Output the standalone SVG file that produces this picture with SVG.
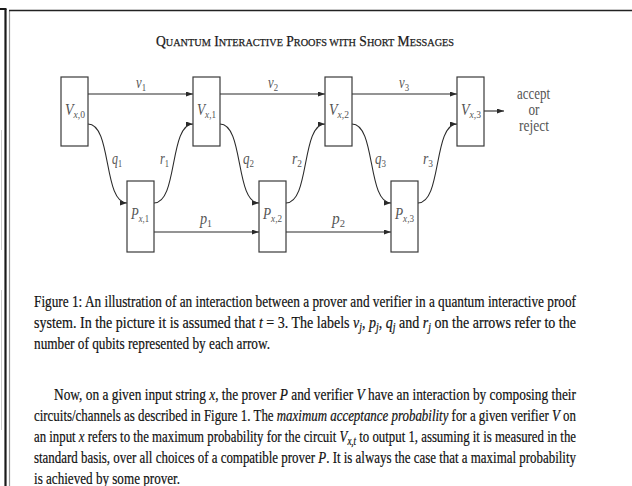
<svg xmlns="http://www.w3.org/2000/svg" width="632" height="486" viewBox="0 0 632 486">
<style>
.box{fill:#fff;stroke:#3a3a3a;stroke-width:1.2}
.wire{fill:none;stroke:#2a2a2a;stroke-width:1.1}
.lbl{font-family:"Liberation Serif","Times New Roman",serif;font-size:16px;fill:#555;font-style:italic}
.up{font-style:normal}
.sub{font-size:11px}
.plain{font-family:"Liberation Serif","Times New Roman",serif;font-size:16.5px;fill:#555}
.title{font-family:"Liberation Serif","Times New Roman",serif;font-size:15px;fill:#1a1a1a;stroke:#1a1a1a;stroke-width:0.25}
.sc{font-size:11.3px}
.body{font-family:"Liberation Serif","Times New Roman",serif;font-size:16.5px;fill:#111;stroke:#111;stroke-width:0.2}
.it{font-style:italic}
.bsub{font-size:11.5px;font-style:italic}
</style>
<defs>
<marker id="ah" markerUnits="userSpaceOnUse" markerWidth="7" markerHeight="5" refX="7" refY="2.5" orient="auto">
<path d="M0,0 L7,2.5 L0,5 z" fill="#2a2a2a"/>
</marker>
</defs>
<rect width="632" height="486" fill="#fff"/>
<g id="page-frame">
<line x1="5.5" y1="9" x2="5.5" y2="486" stroke="#1a1a1a" stroke-width="2.2"/>
<line x1="0" y1="9" x2="6.5" y2="9" stroke="#1a1a1a" stroke-width="2"/>
<line x1="9.5" y1="10.5" x2="9.5" y2="486" stroke="#999" stroke-width="1.2"/>
<line x1="9" y1="10.5" x2="632" y2="10.5" stroke="#222" stroke-width="1.6"/>
<line x1="1.5" y1="130" x2="1.5" y2="250" stroke="#ccc" stroke-width="1"/>
<line x1="1.5" y1="290" x2="1.5" y2="430" stroke="#ccc" stroke-width="1"/>
</g>
<text class="title" x="156" y="46" textLength="298" lengthAdjust="spacingAndGlyphs">Q<tspan class="sc">UANTUM</tspan> I<tspan class="sc">NTERACTIVE</tspan> P<tspan class="sc">ROOFS WITH</tspan> S<tspan class="sc">HORT</tspan> M<tspan class="sc">ESSAGES</tspan></text>
<g id="connectors">
<path class="wire" marker-end="url(#ah)" d="M88,94 H193"/>
<path class="wire" marker-end="url(#ah)" d="M220,94 H325"/>
<path class="wire" marker-end="url(#ah)" d="M352,94 H457"/>
<path class="wire" marker-end="url(#ah)" d="M88,124 C112,124 103,203 127,203"/>
<path class="wire" marker-end="url(#ah)" d="M154,203 C178,203 169,124 193,124"/>
<path class="wire" marker-end="url(#ah)" d="M220,124 C244,124 235,203 259,203"/>
<path class="wire" marker-end="url(#ah)" d="M286,203 C310,203 301,124 325,124"/>
<path class="wire" marker-end="url(#ah)" d="M352,124 C376,124 367,203 391,203"/>
<path class="wire" marker-end="url(#ah)" d="M418,203 C442,203 433,124 457,124"/>
<path class="wire" marker-end="url(#ah)" d="M154,232 H259"/>
<path class="wire" marker-end="url(#ah)" d="M286,232 H391"/>
<path class="wire" marker-end="url(#ah)" d="M484,111 H504"/>
<text class="lbl" x="136" y="88" textLength="10" lengthAdjust="spacingAndGlyphs">v<tspan class="sub up" dy="3">1</tspan></text>
<text class="lbl" x="268" y="88" textLength="10" lengthAdjust="spacingAndGlyphs">v<tspan class="sub up" dy="3">2</tspan></text>
<text class="lbl" x="399" y="88" textLength="10" lengthAdjust="spacingAndGlyphs">v<tspan class="sub up" dy="3">3</tspan></text>
<text class="lbl" x="112" y="164" textLength="10" lengthAdjust="spacingAndGlyphs">q<tspan class="sub up" dy="3">1</tspan></text>
<text class="lbl" x="160" y="164" textLength="9" lengthAdjust="spacingAndGlyphs">r<tspan class="sub up" dy="3">1</tspan></text>
<text class="lbl" x="243" y="164" textLength="11" lengthAdjust="spacingAndGlyphs">q<tspan class="sub up" dy="3">2</tspan></text>
<text class="lbl" x="292" y="164" textLength="10" lengthAdjust="spacingAndGlyphs">r<tspan class="sub up" dy="3">2</tspan></text>
<text class="lbl" x="375" y="164" textLength="11" lengthAdjust="spacingAndGlyphs">q<tspan class="sub up" dy="3">3</tspan></text>
<text class="lbl" x="423" y="164" textLength="10" lengthAdjust="spacingAndGlyphs">r<tspan class="sub up" dy="3">3</tspan></text>
<text class="lbl" x="200" y="224" textLength="12" lengthAdjust="spacingAndGlyphs">p<tspan class="sub up" dy="3">1</tspan></text>
<text class="lbl" x="332" y="224" textLength="13" lengthAdjust="spacingAndGlyphs">p<tspan class="sub up" dy="3">2</tspan></text>
</g>
<g id="Vx0"><rect class="box" x="61" y="77" width="27" height="69"/><text class="lbl" x="65" y="115" textLength="20" lengthAdjust="spacingAndGlyphs">V<tspan class="sub" dy="3">x</tspan><tspan class="sub up">,0</tspan></text></g>
<g id="Vx1"><rect class="box" x="193" y="77" width="27" height="69"/><text class="lbl" x="197" y="115" textLength="19" lengthAdjust="spacingAndGlyphs">V<tspan class="sub" dy="3">x</tspan><tspan class="sub up">,1</tspan></text></g>
<g id="Vx2"><rect class="box" x="325" y="77" width="27" height="69"/><text class="lbl" x="329" y="115" textLength="20" lengthAdjust="spacingAndGlyphs">V<tspan class="sub" dy="3">x</tspan><tspan class="sub up">,2</tspan></text></g>
<g id="Vx3"><rect class="box" x="457" y="77" width="27" height="69"/><text class="lbl" x="461" y="115" textLength="20" lengthAdjust="spacingAndGlyphs">V<tspan class="sub" dy="3">x</tspan><tspan class="sub up">,3</tspan></text></g>
<g id="Px1"><rect class="box" x="127" y="181" width="27" height="71"/><text class="lbl" x="131" y="219" textLength="18" lengthAdjust="spacingAndGlyphs">P<tspan class="sub" dy="3">x</tspan><tspan class="sub up">,1</tspan></text></g>
<g id="Px2"><rect class="box" x="259" y="181" width="27" height="71"/><text class="lbl" x="263" y="219" textLength="19" lengthAdjust="spacingAndGlyphs">P<tspan class="sub" dy="3">x</tspan><tspan class="sub up">,2</tspan></text></g>
<g id="Px3"><rect class="box" x="391" y="181" width="27" height="71"/><text class="lbl" x="395" y="219" textLength="19" lengthAdjust="spacingAndGlyphs">P<tspan class="sub" dy="3">x</tspan><tspan class="sub up">,3</tspan></text></g>
<g id="outcome">
<text class="plain" x="517" y="99" textLength="33" lengthAdjust="spacingAndGlyphs">accept</text>
<text class="plain" x="528.5" y="115" textLength="11" lengthAdjust="spacingAndGlyphs">or</text>
<text class="plain" x="519" y="131" textLength="30" lengthAdjust="spacingAndGlyphs">reject</text>
</g>
<g id="caption">
<text class="body" x="34" y="307" textLength="542" lengthAdjust="spacingAndGlyphs">Figure 1: An illustration of an interaction between a prover and verifier in a quantum interactive proof</text>
<text class="body" x="34" y="328" textLength="542" lengthAdjust="spacingAndGlyphs">system. In the picture it is assumed that <tspan class="it">t</tspan> = 3. The labels <tspan class="it">v</tspan><tspan class="bsub" dy="3">j</tspan><tspan dy="-3">, </tspan><tspan class="it">p</tspan><tspan class="bsub" dy="3">j</tspan><tspan dy="-3">, </tspan><tspan class="it">q</tspan><tspan class="bsub" dy="3">j</tspan><tspan dy="-3"> and </tspan><tspan class="it">r</tspan><tspan class="bsub" dy="3">j</tspan><tspan dy="-3"> on the arrows refer to the</tspan></text>
<text class="body" x="34" y="349" textLength="236" lengthAdjust="spacingAndGlyphs">number of qubits represented by each arrow.</text>
</g>
<g id="paragraph">
<text class="body" x="54" y="400" textLength="522" lengthAdjust="spacingAndGlyphs">Now, on a given input string <tspan class="it">x</tspan>, the prover <tspan class="it">P</tspan> and verifier <tspan class="it">V</tspan> have an interaction by composing their</text>
<text class="body" x="34" y="421" textLength="542" lengthAdjust="spacingAndGlyphs">circuits/channels as described in Figure 1. The <tspan class="it">maximum acceptance probability</tspan> for a given verifier <tspan class="it">V</tspan> on</text>
<text class="body" x="34" y="442" textLength="542" lengthAdjust="spacingAndGlyphs">an input <tspan class="it">x</tspan> refers to the maximum probability for the circuit <tspan class="it">V</tspan><tspan class="bsub" dy="3">x,t</tspan><tspan dy="-3"> to output 1, assuming it is measured in the</tspan></text>
<text class="body" x="34" y="463" textLength="542" lengthAdjust="spacingAndGlyphs">standard basis, over all choices of a compatible prover <tspan class="it">P</tspan>. It is always the case that a maximal probability</text>
<text class="body" x="34" y="484" textLength="146" lengthAdjust="spacingAndGlyphs">is achieved by some prover.</text>
</g>
</svg>
